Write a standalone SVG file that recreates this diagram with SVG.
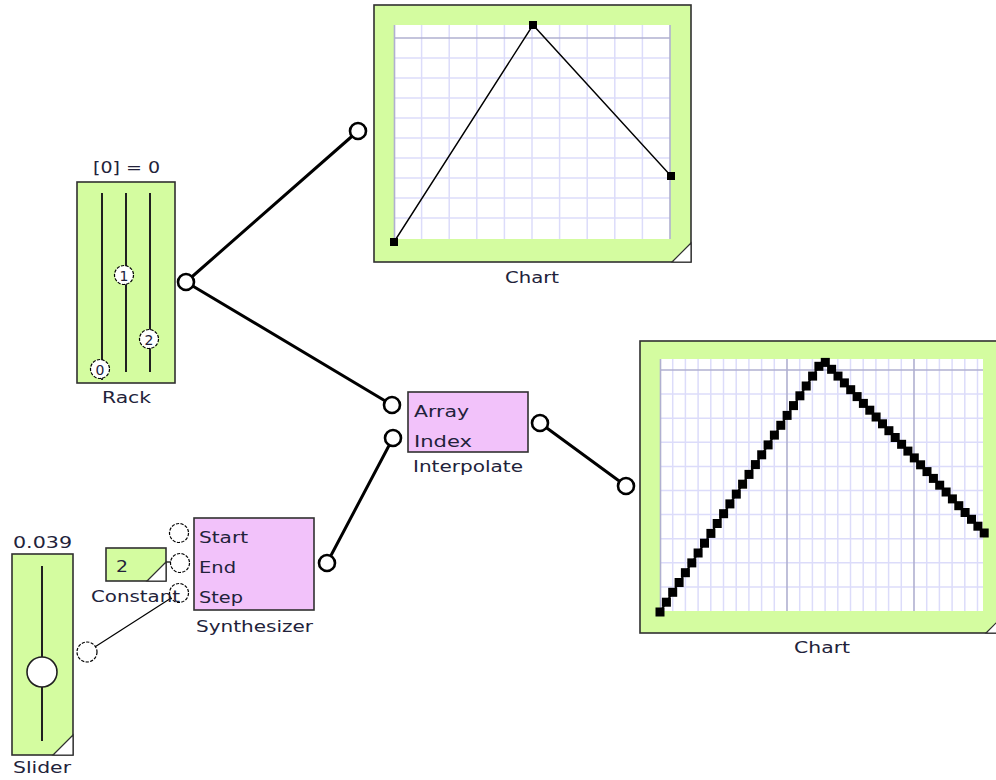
<svg xmlns="http://www.w3.org/2000/svg" xmlns:xlink="http://www.w3.org/1999/xlink" width="996" height="780" viewBox="0 0 996 780">
<style>
.box{fill:#d4fca0;stroke:#303030;stroke-width:1.6}
.pink{fill:#f2c2fa;stroke:#303030;stroke-width:1.6}
.plot{fill:#ffffff;stroke:none}
.minor{stroke:#dcdcfa;stroke-width:1.5}
.major{stroke:#b0b0d0;stroke-width:1.6}
.tri{fill:#ffffff;stroke:#303030;stroke-width:1.2}
.t{font-family:"DejaVu Sans","Liberation Sans",sans-serif;font-size:16px;fill:#22223a}
.knobt{font-family:"DejaVu Sans","Liberation Sans",sans-serif;font-size:14px;fill:#22223a;text-anchor:middle}
.wire{stroke:#000;stroke-width:3;fill:none;stroke-linecap:round}
.thin{stroke:#000;stroke-width:1.2;fill:none}
.port{fill:#fff;stroke:#000;stroke-width:2.6}
.tport{fill:#fff;stroke:#000;stroke-width:1.2;stroke-dasharray:3.2 1.4}
.rl{stroke:#202020;stroke-width:2}
</style>
<defs>
<rect id="m" x="-4" y="-4" width="8" height="8" fill="#000"/>
<rect id="m2" x="-4.5" y="-4.5" width="9" height="9" fill="#000"/>
</defs>

<g id="connectors">
<line class="wire" x1="186" y1="282" x2="358" y2="131"/>
<line class="wire" x1="186" y1="282" x2="392" y2="405"/>
<line class="wire" x1="540" y1="423" x2="626" y2="486"/>
<line class="wire" x1="327" y1="563" x2="393" y2="438"/>
<line class="thin" x1="87" y1="652" x2="179" y2="593"/>
<line class="thin" x1="166" y1="562" x2="171" y2="562"/>
</g>

<g id="rack">
<text class="t" x="93" y="173" textLength="67" lengthAdjust="spacingAndGlyphs">[0] = 0</text>
<rect class="box" x="77" y="182" width="98" height="201"/>
<line class="rl" x1="102" y1="193" x2="102" y2="380"/>
<line class="rl" x1="126" y1="193" x2="126" y2="372"/>
<line class="rl" x1="150" y1="193" x2="150" y2="372"/>
<circle class="tport" cx="100" cy="369" r="9.5"/>
<text class="knobt" x="100" y="375">0</text>
<circle class="tport" cx="124" cy="275" r="9.5"/>
<text class="knobt" x="124" y="281">1</text>
<circle class="tport" cx="149" cy="339" r="9.5"/>
<text class="knobt" x="149" y="345">2</text>
<circle class="port" cx="186" cy="282" r="8"/>
<text class="t" x="102" y="403" textLength="49" lengthAdjust="spacingAndGlyphs">Rack</text>
</g>

<g id="chart1">
<rect class="box" x="374" y="5" width="317" height="257"/>
<rect class="plot" x="394" y="25" width="276" height="214"/>
<g class="minor">
<line x1="421.6" y1="25" x2="421.6" y2="239"/><line x1="449.2" y1="25" x2="449.2" y2="239"/>
<line x1="476.8" y1="25" x2="476.8" y2="239"/><line x1="504.4" y1="25" x2="504.4" y2="239"/>
<line x1="532" y1="25" x2="532" y2="239"/><line x1="559.6" y1="25" x2="559.6" y2="239"/>
<line x1="587.2" y1="25" x2="587.2" y2="239"/><line x1="614.8" y1="25" x2="614.8" y2="239"/>
<line x1="642.4" y1="25" x2="642.4" y2="239"/>
<line x1="394" y1="58" x2="670" y2="58"/><line x1="394" y1="78" x2="670" y2="78"/>
<line x1="394" y1="98" x2="670" y2="98"/><line x1="394" y1="118" x2="670" y2="118"/>
<line x1="394" y1="138" x2="670" y2="138"/><line x1="394" y1="158" x2="670" y2="158"/>
<line x1="394" y1="178" x2="670" y2="178"/><line x1="394" y1="198" x2="670" y2="198"/>
<line x1="394" y1="218" x2="670" y2="218"/>
</g>
<g class="major">
<line x1="394" y1="38" x2="670" y2="38"/>
<line x1="394.5" y1="25" x2="394.5" y2="239"/>
<line x1="670" y1="25" x2="670" y2="239"/>
</g>
<polyline points="394,242 533,25 671,176" fill="none" stroke="#000" stroke-width="1.4"/>
<use xlink:href="#m" x="394" y="242"/>
<use xlink:href="#m" x="533" y="25"/>
<use xlink:href="#m" x="671" y="176"/>
<polygon class="tri" points="672,262 691,262 691,243"/>
<circle class="port" cx="358" cy="131" r="8"/>
<text class="t" x="505" y="283" textLength="54" lengthAdjust="spacingAndGlyphs">Chart</text>
</g>

<g id="interpolate">
<rect class="pink" x="408" y="392" width="120" height="60"/>
<text class="t" x="414" y="417" textLength="55" lengthAdjust="spacingAndGlyphs">Array</text>
<text class="t" x="414" y="447" textLength="58" lengthAdjust="spacingAndGlyphs">Index</text>
<circle class="port" cx="392" cy="405" r="8"/>
<circle class="port" cx="393" cy="438" r="8"/>
<circle class="port" cx="540" cy="423" r="8"/>
<text class="t" x="413" y="472" textLength="110" lengthAdjust="spacingAndGlyphs">Interpolate</text>
</g>

<g id="chart2">
<rect class="box" x="640" y="341" width="365" height="292"/>
<rect class="plot" x="660" y="359" width="323" height="252"/>
<g class="minor">
<line x1="672.7" y1="359" x2="672.7" y2="611"/><line x1="685.4" y1="359" x2="685.4" y2="611"/>
<line x1="698.1" y1="359" x2="698.1" y2="611"/><line x1="710.8" y1="359" x2="710.8" y2="611"/>
<line x1="723.5" y1="359" x2="723.5" y2="611"/><line x1="736.2" y1="359" x2="736.2" y2="611"/>
<line x1="748.9" y1="359" x2="748.9" y2="611"/><line x1="761.6" y1="359" x2="761.6" y2="611"/>
<line x1="774.3" y1="359" x2="774.3" y2="611"/>
<line x1="799.7" y1="359" x2="799.7" y2="611"/><line x1="812.4" y1="359" x2="812.4" y2="611"/>
<line x1="825.1" y1="359" x2="825.1" y2="611"/><line x1="837.8" y1="359" x2="837.8" y2="611"/>
<line x1="850.5" y1="359" x2="850.5" y2="611"/><line x1="863.2" y1="359" x2="863.2" y2="611"/>
<line x1="875.9" y1="359" x2="875.9" y2="611"/><line x1="888.6" y1="359" x2="888.6" y2="611"/>
<line x1="901.3" y1="359" x2="901.3" y2="611"/>
<line x1="926.7" y1="359" x2="926.7" y2="611"/><line x1="939.4" y1="359" x2="939.4" y2="611"/>
<line x1="952.1" y1="359" x2="952.1" y2="611"/><line x1="964.8" y1="359" x2="964.8" y2="611"/>
<line x1="977.5" y1="359" x2="977.5" y2="611"/>
<line x1="660" y1="394.1" x2="983" y2="394.1"/><line x1="660" y1="418.2" x2="983" y2="418.2"/>
<line x1="660" y1="442.3" x2="983" y2="442.3"/><line x1="660" y1="466.4" x2="983" y2="466.4"/>
<line x1="660" y1="490.5" x2="983" y2="490.5"/><line x1="660" y1="514.6" x2="983" y2="514.6"/>
<line x1="660" y1="538.7" x2="983" y2="538.7"/><line x1="660" y1="562.8" x2="983" y2="562.8"/>
<line x1="660" y1="586.9" x2="983" y2="586.9"/>
</g>
<g class="major">
<line x1="660" y1="370" x2="983" y2="370"/>
<line x1="660.5" y1="359" x2="660.5" y2="611"/>
<line x1="787" y1="359" x2="787" y2="611"/>
<line x1="914" y1="359" x2="914" y2="611"/>
</g>
<polyline points="660,612 823,360 984.2,533" fill="none" stroke="#000" stroke-width="2"/>
<g>
<use xlink:href="#m2" x="660.0" y="612.0"/><use xlink:href="#m2" x="666.4" y="602.2"/>
<use xlink:href="#m2" x="672.7" y="592.3"/><use xlink:href="#m2" x="679.1" y="582.5"/>
<use xlink:href="#m2" x="685.4" y="572.7"/><use xlink:href="#m2" x="691.8" y="562.9"/>
<use xlink:href="#m2" x="698.1" y="553.0"/><use xlink:href="#m2" x="704.5" y="543.2"/>
<use xlink:href="#m2" x="710.9" y="533.4"/><use xlink:href="#m2" x="717.2" y="523.5"/>
<use xlink:href="#m2" x="723.6" y="513.7"/><use xlink:href="#m2" x="729.9" y="503.9"/>
<use xlink:href="#m2" x="736.3" y="494.1"/><use xlink:href="#m2" x="742.6" y="484.2"/>
<use xlink:href="#m2" x="749.0" y="474.4"/><use xlink:href="#m2" x="755.4" y="464.6"/>
<use xlink:href="#m2" x="761.7" y="454.8"/><use xlink:href="#m2" x="768.1" y="444.9"/>
<use xlink:href="#m2" x="774.4" y="435.1"/><use xlink:href="#m2" x="780.8" y="425.3"/>
<use xlink:href="#m2" x="787.1" y="415.4"/><use xlink:href="#m2" x="793.5" y="405.6"/>
<use xlink:href="#m2" x="799.9" y="395.8"/><use xlink:href="#m2" x="806.2" y="386.0"/>
<use xlink:href="#m2" x="812.6" y="376.1"/><use xlink:href="#m2" x="818.9" y="366.3"/>
<use xlink:href="#m2" x="825.3" y="362.4"/><use xlink:href="#m2" x="831.6" y="369.3"/>
<use xlink:href="#m2" x="838.0" y="376.1"/><use xlink:href="#m2" x="844.4" y="382.9"/>
<use xlink:href="#m2" x="850.7" y="389.7"/><use xlink:href="#m2" x="857.1" y="396.6"/>
<use xlink:href="#m2" x="863.4" y="403.4"/><use xlink:href="#m2" x="869.8" y="410.2"/>
<use xlink:href="#m2" x="876.1" y="417.0"/><use xlink:href="#m2" x="882.5" y="423.8"/>
<use xlink:href="#m2" x="888.9" y="430.7"/><use xlink:href="#m2" x="895.2" y="437.5"/>
<use xlink:href="#m2" x="901.6" y="444.3"/><use xlink:href="#m2" x="907.9" y="451.1"/>
<use xlink:href="#m2" x="914.3" y="457.9"/><use xlink:href="#m2" x="920.6" y="464.8"/>
<use xlink:href="#m2" x="927.0" y="471.6"/><use xlink:href="#m2" x="933.4" y="478.4"/>
<use xlink:href="#m2" x="939.7" y="485.2"/><use xlink:href="#m2" x="946.1" y="492.0"/>
<use xlink:href="#m2" x="952.4" y="498.9"/><use xlink:href="#m2" x="958.8" y="505.7"/>
<use xlink:href="#m2" x="965.1" y="512.5"/><use xlink:href="#m2" x="971.5" y="519.3"/>
<use xlink:href="#m2" x="977.9" y="526.2"/><use xlink:href="#m2" x="984.2" y="533.0"/>
</g>
<polygon class="tri" points="986,633 1005,633 1005,614"/>
<circle class="port" cx="626" cy="486" r="8"/>
<text class="t" x="794" y="653" textLength="56" lengthAdjust="spacingAndGlyphs">Chart</text>
</g>

<g id="synthesizer">
<rect class="pink" x="194" y="518" width="120" height="92"/>
<text class="t" x="199" y="543" textLength="49" lengthAdjust="spacingAndGlyphs">Start</text>
<text class="t" x="199" y="573" textLength="37" lengthAdjust="spacingAndGlyphs">End</text>
<text class="t" x="199" y="603" textLength="44" lengthAdjust="spacingAndGlyphs">Step</text>
<circle class="tport" cx="179" cy="533" r="9.5"/>
<circle class="tport" cx="180" cy="563" r="9.5"/>
<circle class="tport" cx="179" cy="593" r="9.5"/>
<circle class="port" cx="327" cy="563" r="8"/>
<text class="t" x="196" y="632" textLength="117" lengthAdjust="spacingAndGlyphs">Synthesizer</text>
</g>

<g id="constant">
<rect class="box" x="106" y="548" width="60" height="33"/>
<polygon class="tri" points="147,581 166,581 166,562"/>
<text class="t" x="116" y="572" textLength="12" lengthAdjust="spacingAndGlyphs">2</text>
<text class="t" x="91" y="602" textLength="89" lengthAdjust="spacingAndGlyphs">Constant</text>
</g>

<g id="slider">
<text class="t" x="13" y="548" textLength="59" lengthAdjust="spacingAndGlyphs">0.039</text>
<rect class="box" x="12" y="554" width="61" height="201"/>
<line class="rl" x1="42" y1="566" x2="42" y2="741"/>
<circle cx="42" cy="672" r="15" fill="#fff" stroke="#202020" stroke-width="1.6"/>
<polygon class="tri" points="53,755 73,755 73,735"/>
<circle class="tport" cx="87" cy="652" r="10"/>
<text class="t" x="13" y="773" textLength="58" lengthAdjust="spacingAndGlyphs">Slider</text>
</g>
</svg>
